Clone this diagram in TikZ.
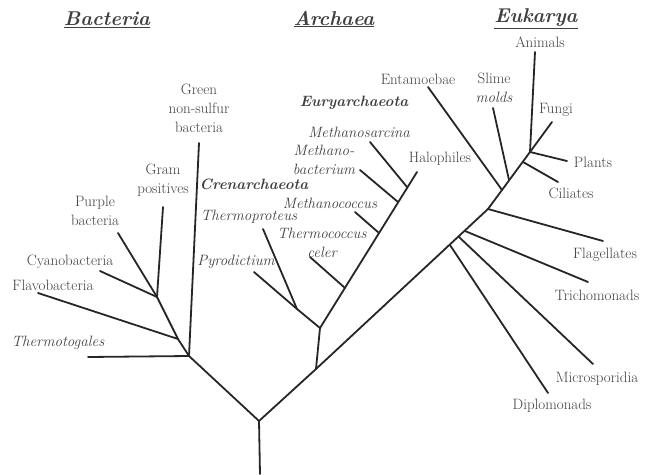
\documentclass[tikz,border=0pt]{standalone}

\tikzset{
  branch/.style={draw=black!85, line width=1.8pt, line cap=round, line join=round},
  taxon/.style={text=black!75, font=\fontsize{15}{19}\selectfont, inner sep=0pt, align=center},
  genus/.style={taxon, font=\fontsize{15}{19}\selectfont\itshape},
  kingdom/.style={taxon, font=\fontsize{15}{19}\selectfont\bfseries\itshape},
  realm/.style={text=black!75, font=\fontsize{20}{24}\selectfont\bfseries\itshape, inner sep=0pt}
}

\begin{document}
\begin{tikzpicture}[x=1pt, y=-1pt]
		\useasboundingbox (0,0) rectangle (645,474);

		% domains
		\node[realm] (dBac) at (107,20) {\underline{Bacteria}};
		\node[realm] (dArc) at (334,19) {\underline{Archaea}};
		\node[realm] (dEuk) at (536,19) {\underline{Eukarya}};

		% trunk
		\coordinate (root) at (260,474);
		\coordinate (fork) at (259,421);
		\draw[branch] (root) -- (fork);

		%%%%%%%%%%%%%%%%%%%%%%%%%%%%
		% bacteria
		\coordinate (bac) at (189,356);
		\coordinate (bacA) at (178,339);
		\coordinate (bacB) at (157,297);
		\coordinate (tGreen) at (199,143);
		\coordinate (tThermo) at (88,357);
		\coordinate (tFlavo) at (38,293);
		\coordinate (tCyano) at (100,271);
		\coordinate (tPurple) at (118,233);
		\coordinate (tGram) at (163,207);

		\draw[branch] (fork) -- (bac);
		\draw[branch] (bac) -- (tGreen);
		\draw[branch] (bac) -- (tThermo);
		\draw[branch] (bac) -- (bacA);
			\draw[branch] (bacA) -- (tFlavo);
			\draw[branch] (bacA) -- (bacB);
				\draw[branch] (bacB) -- (tCyano);
				\draw[branch] (bacB) -- (tPurple);
				\draw[branch] (bacB) -- (tGram);

		\node[taxon] (lGreen) at (199,108) {Green\\non-sulfur\\bacteria};
		\node[taxon] (lGram) at (163,180) {Gram\\positives};
		\node[taxon] (lPurple) at (95,211) {Purple\\bacteria};
		\node[taxon] (lCyano) at (70,262) {Cyanobacteria};
		\node[taxon] (lFlavo) at (53,285) {Flavobacteria};
		\node[genus] (lThermo) at (58,343) {Thermotogales};

		%%%%%%%%%%%%%%%%%%%%%%%%%%%%
		% archaea
		\coordinate (arcStem) at (316,369);
		\coordinate (arc) at (320,328);
		\coordinate (cren) at (297,309);
		\coordinate (tPyro) at (254,272);
		\coordinate (tProteus) at (263,229);
		\coordinate (euA) at (345,288);
		\coordinate (euB) at (379,233);
		\coordinate (euC) at (398,202);
		\coordinate (euD) at (407,187);
		\coordinate (tHalo) at (417,172);
		\coordinate (tCeler) at (310,257);
		\coordinate (tCoccus) at (355,212);
		\coordinate (tBact) at (360,170);
		\coordinate (tSarc) at (370,142);

		\draw[branch] (arcStem) -- (arc);
		\draw[branch] (arc) -- (cren);
			\draw[branch] (cren) -- (tPyro);
			\draw[branch] (cren) -- (tProteus);
		\draw[branch] (arc) -- (tHalo);
			\draw[branch] (euA) -- (tCeler);
			\draw[branch] (euB) -- (tCoccus);
			\draw[branch] (euC) -- (tBact);
			\draw[branch] (euD) -- (tSarc);

		\node[kingdom] (lEury) at (354,103) {Euryarchaeota};
		\node[genus] (lSarc) at (359,132) {Methanosarcina};
		\node[genus] (lBact) at (324,160) {Methano-\\bacterium};
		\node[kingdom] (lCren) at (254,184) {Crenarchaeota};
		\node[genus] (lCoccus) at (330,203) {Methanococcus};
		\node[genus] (lProteus) at (249,217) {Thermoproteus};
		\node[genus] (lCeler) at (322,243) {Thermococcus\\celer};
		\node[genus] (lPyro) at (236,262) {Pyrodictium};
		\node[taxon] (lHalo) at (440,159) {Halophiles};

		%%%%%%%%%%%%%%%%%%%%%%%%%%%%
		% eukarya
		\coordinate (ekA) at (450,245);
		\coordinate (ekB) at (459,237);
		\coordinate (ekC) at (465,231);
		\coordinate (ekD) at (488,209);
		\coordinate (ekE) at (502,190);
		\coordinate (ekF) at (509,180);
		\coordinate (ekG) at (523,162);
		\coordinate (crown) at (530,152);
		\coordinate (tDiplo) at (548,393);
		\coordinate (tMicro) at (593,364);
		\coordinate (tTricho) at (588,282);
		\coordinate (tFlag) at (603,241);
		\coordinate (tEnta) at (428,87);
		\coordinate (tSlime) at (493,108);
		\coordinate (tCil) at (558,182);
		\coordinate (tPlant) at (567,161);
		\coordinate (tFungi) at (552,122);
		\coordinate (tAnimal) at (535,52);

		\draw[branch] (fork) -- (arcStem) -- (ekD) -- (crown);
			\draw[branch] (ekA) -- (tDiplo);
			\draw[branch] (ekB) -- (tMicro);
			\draw[branch] (ekC) -- (tTricho);
			\draw[branch] (ekD) -- (tFlag);
			\draw[branch] (ekE) -- (tEnta);
			\draw[branch] (ekF) -- (tSlime);
			\draw[branch] (ekG) -- (tCil);
		\draw[branch] (crown) -- (tPlant);
		\draw[branch] (crown) -- (tFungi);
		\draw[branch] (crown) -- (tAnimal);

		\node[taxon] (lDiplo) at (552,406) {Diplomonads};
		\node[taxon] (lMicro) at (597,379) {Microsporidia};
		\node[taxon] (lTricho) at (597,295) {Trichomonads};
		\node[taxon] (lFlag) at (605,255) {Flagellates};
		\node[taxon] (lEnta) at (418,79) {Entamoebae};
		\node[taxon] (lSlime) at (494,88) {Slime\\\textit{molds}};
		\node[taxon] (lCil) at (571,193) {Ciliates};
		\node[taxon] (lPlant) at (593,162) {Plants};
		\node[taxon] (lFungi) at (556,110) {Fungi};
		\node[taxon] (lAnimal) at (540,42) {Animals};
\end{tikzpicture}
\end{document}
